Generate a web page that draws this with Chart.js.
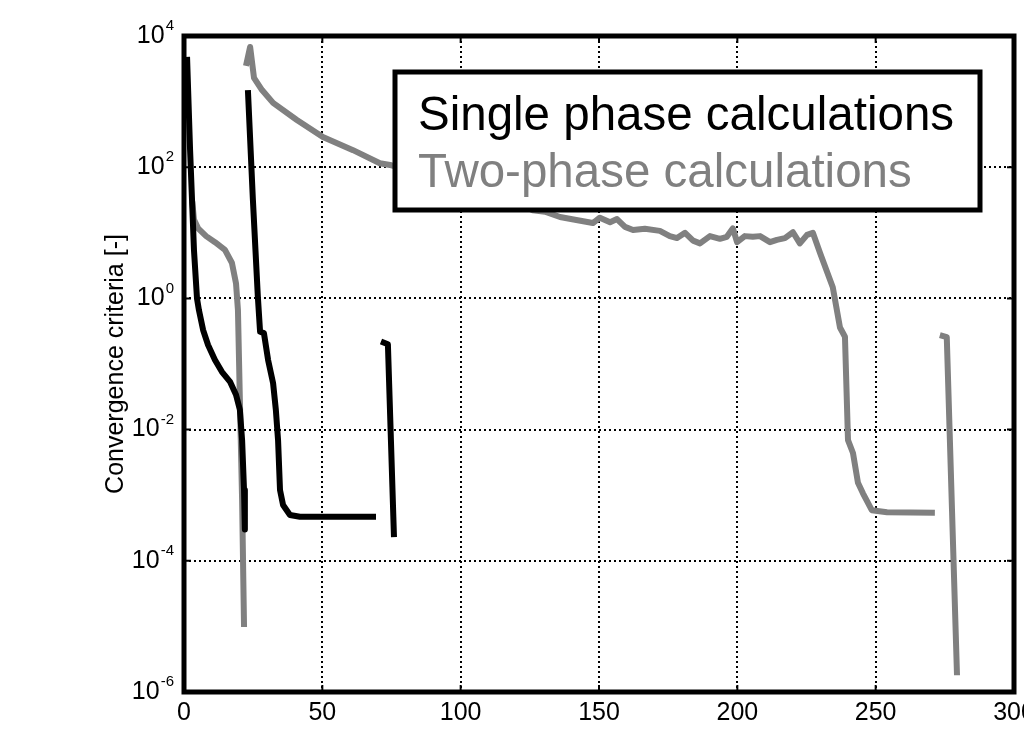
<!DOCTYPE html>
<html>
<head>
<meta charset="utf-8">
<script src="https://cdn.jsdelivr.net/npm/chart.js@4/dist/chart.umd.min.js"></script>
<style>
  html, body { margin: 0; padding: 0; background: #fff; overflow: hidden; }
  #wrap { width: 1024px; height: 731px; }
</style>
</head>
<body>
<div id="wrap"><canvas id="convChart" width="1024" height="731"></canvas></div>
<script>
// iteration number vs convergence criteria, null breaks a run
const singleX = [1.1, 2.2, 3.6, 4.7, 5.4, 6.9, 8.7, 11.2, 13.7, 16.6, 18.8, 20.2, 21, 21.7, 22,
  22.5,
  23.1, 24.9, 26.7, 27.5, 28.9, 30.4, 32.2, 33.2, 34, 34.7, 35.8, 38.3, 41.9, 69.4,
  70.3,
  71.2, 73.7, 75.9];
const singleY = [4800, 182, 5.5, 1.0, 0.66, 0.33, 0.195, 0.115, 0.076, 0.054, 0.034, 0.020, 0.0069, 0.0012, 0.0003,
  null,
  1500, 32, 1.05, 0.31, 0.295, 0.115, 0.051, 0.020, 0.0069, 0.0012, 7.1e-4, 5.0e-4, 4.7e-4, 4.7e-4,
  null,
  0.22, 0.20, 2.3e-4];

const twoX = [3.0, 3.6, 5.1, 8, 11.2, 14.8, 17.3, 18.8, 19.5, 20.2, 21, 21.7,
  22,
  22.4, 23.9, 25.3, 28.2, 32.2, 40.8, 50.2, 61.1, 70.8, 75, 90, 105, 118,
  126.1, 130.5, 135.9, 141.3, 147.8, 150.3, 154, 156.5, 159.4, 162.3, 166.6, 172, 175.6, 178.2,
  181.1, 184, 186.5, 190.1, 193.7, 196.2, 198.4, 199.9, 202.7, 205.6, 208.2, 211.8, 214.3, 217.2,
  220.1, 222.6, 225.2, 227.3, 229.9, 234.5, 237.1, 238.9, 240, 241.8, 243.6, 245.4, 248.6, 254.1, 271.4,
  272.3,
  273.2, 275.7, 279.4];
const twoY = [30, 16, 11.7, 8.9, 7.2, 5.5, 3.5, 1.7, 0.66, 0.028, 8.5e-4, 9.8e-6,
  null,
  3500, 6800, 2300, 1500, 955, 525, 288, 182, 115, 107, 71, 45, 32,
  22, 21, 17.4, 15.8, 14.1, 17, 14.5, 16.2, 12.3, 11, 11.5, 10.7, 8.9, 8.3,
  10, 7.6, 6.9, 8.9, 8.1, 8.7, 11.7, 7.2, 8.9, 8.7, 8.9, 7.2, 7.8, 8.3,
  10.2, 6.9, 9.3, 10, 4.9, 1.48, 0.36, 0.26, 0.0069, 0.0044, 0.00155, 0.00107, 5.9e-4, 5.5e-4, 5.4e-4,
  null,
  0.275, 0.257, 1.8e-6];

const xTicks = [0, 50, 100, 150, 200, 250, 300];
const yTicks = [1e-6, 1e-4, 1e-2, 1e0, 1e2, 1e4];
const yExponents = ['-6', '-4', '-2', '0', '2', '4'];

const toPoints = (xs, ys) => xs.map((x, i) => ({ x: x, y: ys[i] }));

const FONT = '"Liberation Sans", Arial, Helvetica, sans-serif';

// frame, inner tick marks, y labels with superscripts, legend box
const decorations = {
  id: 'decorations',
  beforeDatasetsDraw(chart) {
    const ctx = chart.ctx;
    const ys = chart.scales.y;
    ctx.save();
    ctx.fillStyle = '#000';
    ctx.textBaseline = 'middle';
    ctx.textAlign = 'left';
    yTicks.forEach((v, i) => {
      const py = ys.getPixelForValue(v);
      ctx.font = '25px ' + FONT;
      const wBase = ctx.measureText('10').width;
      ctx.font = '15px ' + FONT;
      const wExp = ctx.measureText(yExponents[i]).width;
      const right = 174;
      ctx.font = '25px ' + FONT;
      ctx.fillText('10', right - wExp - wBase - 1, py);
      ctx.font = '15px ' + FONT;
      ctx.fillText(yExponents[i], right - wExp, py - 10);
    });
    ctx.restore();
  },
  afterDatasetsDraw(chart) {
    const ctx = chart.ctx;
    const a = chart.chartArea;
    const xs = chart.scales.x, ys = chart.scales.y;
    ctx.save();
    // frame
    ctx.strokeStyle = '#000';
    ctx.lineWidth = 5;
    ctx.strokeRect(a.left, a.top, a.right - a.left, a.bottom - a.top);
    // inward tick marks
    ctx.lineWidth = 2;
    ctx.beginPath();
    xTicks.forEach(v => {
      const px = xs.getPixelForValue(v);
      ctx.moveTo(px, a.bottom); ctx.lineTo(px, a.bottom - 7);
      ctx.moveTo(px, a.top); ctx.lineTo(px, a.top + 7);
    });
    yTicks.forEach(v => {
      const py = ys.getPixelForValue(v);
      ctx.moveTo(a.left, py); ctx.lineTo(a.left + 7, py);
      ctx.moveTo(a.right, py); ctx.lineTo(a.right - 7, py);
    });
    ctx.stroke();
    // legend
    const bx = 395, by = 72, bw = 585, bh = 138;
    ctx.fillStyle = '#fff';
    ctx.fillRect(bx, by, bw, bh);
    ctx.lineWidth = 5;
    ctx.strokeStyle = '#000';
    ctx.strokeRect(bx, by, bw, bh);
    ctx.font = '47.5px ' + FONT;
    ctx.textAlign = 'left';
    ctx.textBaseline = 'alphabetic';
    chart.data.datasets.forEach((ds, i) => {
      ctx.fillStyle = ds.borderColor;
      ctx.fillText(ds.label, 418, 130 + i * 57);
    });
    ctx.restore();
  }
};

const ctx1 = document.getElementById('convChart').getContext('2d');
new Chart(ctx1, {
  type: 'line',
  data: {
    datasets: [{
      label: 'Single phase calculations',
      data: toPoints(singleX, singleY),
      borderColor: '#000000',
      borderWidth: 6,
      borderJoinStyle: 'round',
      pointRadius: 0,
      tension: 0,
      spanGaps: false
    },
    {
      label: 'Two-phase calculations',
      data: toPoints(twoX, twoY),
      borderColor: '#808080',
      borderWidth: 6,
      borderJoinStyle: 'round',
      pointRadius: 0,
      tension: 0,
      spanGaps: false
    }]
  },
  options: {
    responsive: false,
    animation: false,
    layout: {
      padding: { left: 97, right: 10, top: 36, bottom: 0 }
    },
    scales: {
      x: {
        type: 'linear',
        min: 0,
        max: 300,
        afterBuildTicks: s => { s.ticks = xTicks.map(v => ({ value: v })); },
        afterFit: s => { s.height = 39; s.paddingRight = 0; s.paddingLeft = 0; },
        ticks: {
          color: '#000',
          padding: 6,
          maxRotation: 0,
          font: { family: FONT, size: 25 }
        },
        grid: {
          color: '#000',
          lineWidth: 2,
          drawTicks: false
        },
        border: { display: false, dash: [2, 3] }
      },
      y: {
        type: 'logarithmic',
        min: 1e-6,
        max: 1e4,
        afterBuildTicks: s => { s.ticks = yTicks.map(v => ({ value: v })); },
        afterFit: s => { s.width = 87; s.paddingTop = 0; s.paddingBottom = 0; },
        ticks: { display: false },
        title: {
          display: true,
          text: 'Convergence criteria [-]',
          color: '#000',
          font: { family: FONT, size: 25 }
        },
        grid: {
          color: '#000',
          lineWidth: 2,
          drawTicks: false
        },
        border: { display: false, dash: [2, 3] }
      }
    },
    plugins: {
      legend: { display: false },
      tooltip: { enabled: false }
    }
  },
  plugins: [decorations]
});
</script>
</body>
</html>
